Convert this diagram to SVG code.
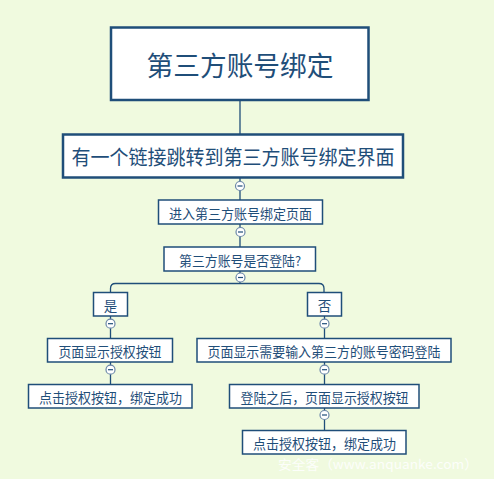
<svg xmlns="http://www.w3.org/2000/svg" width="494" height="479" viewBox="0 0 494 479">
<style>
.bx{fill:#ffffff;stroke:#1f4e79;stroke-width:1.5}
.bx2{fill:#ffffff;stroke:#1f4e79;stroke-width:2.5}
.t{font-family:"Noto Sans CJK SC",sans-serif;fill:#1f4e79;text-anchor:middle;dominant-baseline:central}
.ln{fill:none;stroke:#1f4e79;stroke-width:1.3}
.cc{fill:#ffffff;stroke:#6b87a8;stroke-width:1.2}
.mn{stroke:#1f4e79;stroke-width:1.2}
</style>
<defs>
<g id="col"><circle class="cc" r="4.5"/><line class="mn" x1="-2.5" y1="0" x2="2.5" y2="0"/></g>
</defs>
<rect width="494" height="479" fill="#f0fadf"/>
<g id="connectors">
<path class="ln" d="M240 100V134"/>
<path class="ln" d="M240 178V200"/>
<path class="ln" d="M240 224V247"/>
<path class="ln" d="M240 271V283.5"/>
<path class="ln" d="M110.5 292V288.5Q110.5 283.5 115.5 283.5H319Q324 283.5 324 288.5V292"/>
<path class="ln" d="M110.5 316V338"/>
<path class="ln" d="M110.5 362V384"/>
<path class="ln" d="M324.5 316V338"/>
<path class="ln" d="M324.5 362V384"/>
<path class="ln" d="M324.5 408V430"/>
<use href="#col" x="240" y="186"/>
<use href="#col" x="240.5" y="232"/>
<use href="#col" x="240.5" y="277.5"/>
<use href="#col" x="110.5" y="323.7"/>
<use href="#col" x="110.5" y="369.7"/>
<use href="#col" x="324.5" y="323.7"/>
<use href="#col" x="324.5" y="369.7"/>
<use href="#col" x="324.5" y="415"/>
</g>
<g id="n1"><rect class="bx2" x="111" y="27.5" width="257.5" height="72.5"/><text class="t" x="240" y="64" font-size="27" textLength="187" lengthAdjust="spacingAndGlyphs">第三方账号绑定</text></g>
<g id="n2"><rect class="bx2" x="63" y="134.5" width="340" height="43"/><text class="t" x="233" y="156.5" font-size="20" textLength="323" lengthAdjust="spacingAndGlyphs">有一个链接跳转到第三方账号绑定界面</text></g>
<g id="n3"><rect class="bx" x="158.5" y="200" width="164" height="24"/><text class="t" x="240.5" y="212.5" font-size="13.5" textLength="143" lengthAdjust="spacingAndGlyphs">进入第三方账号绑定页面</text></g>
<g id="n4"><rect class="bx" x="164" y="247" width="151.5" height="24"/><text class="t" x="240" y="259.5" font-size="13.5" textLength="122" lengthAdjust="spacingAndGlyphs">第三方账号是否登陆?</text></g>
<g id="n5"><rect class="bx" x="93.5" y="292.5" width="34" height="23.5"/><text class="t" x="110.5" y="304.5" font-size="13.5">是</text></g>
<g id="n6"><rect class="bx" x="307.5" y="292.5" width="34" height="23.5"/><text class="t" x="324.5" y="304.5" font-size="13.5">否</text></g>
<g id="n7"><rect class="bx" x="47.5" y="338.5" width="125" height="23.5"/><text class="t" x="110" y="350.5" font-size="13.5" textLength="103" lengthAdjust="spacingAndGlyphs">页面显示授权按钮</text></g>
<g id="n8"><rect class="bx" x="28.5" y="384.5" width="163.5" height="23.5"/><text class="t" x="110.5" y="396.5" font-size="13.5" textLength="143" lengthAdjust="spacingAndGlyphs">点击授权按钮，绑定成功</text></g>
<g id="n9"><rect class="bx" x="197" y="338.5" width="254" height="23.5"/><text class="t" x="324" y="350.5" font-size="13.5" textLength="233" lengthAdjust="spacingAndGlyphs">页面显示需要输入第三方的账号密码登陆</text></g>
<g id="n10"><rect class="bx" x="229.5" y="384.5" width="189.5" height="23.5"/><text class="t" x="324.5" y="396.5" font-size="13.5" textLength="168" lengthAdjust="spacingAndGlyphs">登陆之后，页面显示授权按钮</text></g>
<g id="n11"><rect class="bx" x="242.5" y="430.5" width="163.5" height="23.5"/><text class="t" x="324.5" y="442.5" font-size="13.5" textLength="143" lengthAdjust="spacingAndGlyphs">点击授权按钮，绑定成功</text></g>
<text x="278" y="463" font-family="'Noto Sans CJK SC',sans-serif" font-size="13" fill="#ffffff" fill-opacity="0.85" dominant-baseline="central" textLength="200" lengthAdjust="spacingAndGlyphs">安全客（www.anquanke.com）</text>
</svg>
